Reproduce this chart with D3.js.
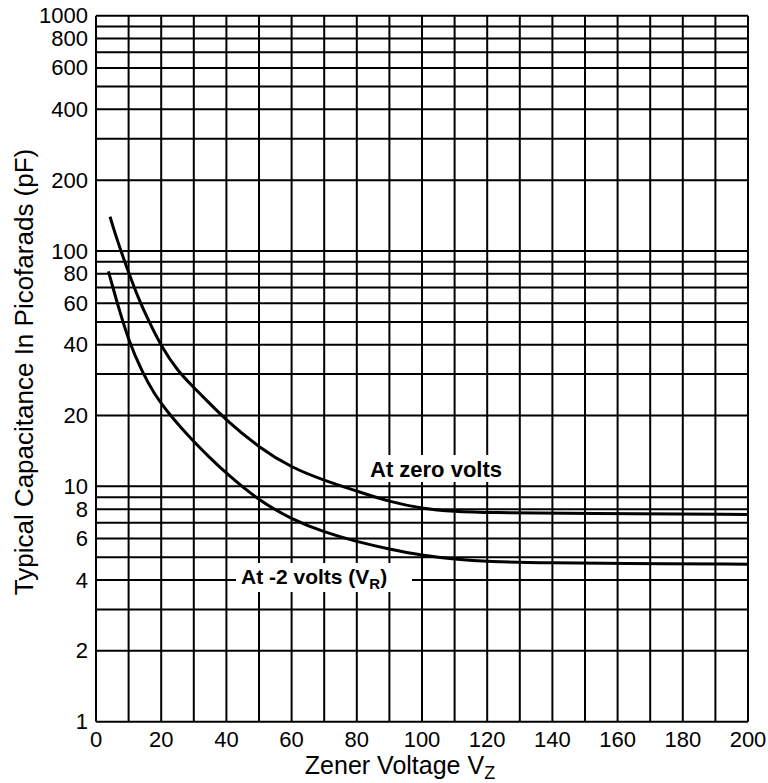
<!DOCTYPE html>
<html>
<head>
<meta charset="utf-8">
<script src="https://cdn.jsdelivr.net/npm/d3@7"></script>
<style>
  body { margin: 0; background: #fff; }
  text { font-family: "Liberation Sans", Arial, sans-serif; fill: #000; }
</style>
</head>
<body>
<div id="chart"></div>
<script>
// Zener voltage (x) and typical capacitance in pF (y)
const zeroVoltsVz = [4.3, 6, 8, 10, 13, 16, 20, 25, 30, 35, 40, 50, 60, 70, 80, 90, 100, 110, 120, 150, 200];
const zeroVoltsPf = [140, 117, 97, 81, 63, 51, 39.4, 31, 26.3, 22.4, 19.1, 14.6, 12, 10.6, 9.55, 8.6, 8.05, 7.82, 7.73, 7.67, 7.6];

const minus2Vz = [3.8, 5, 7, 10, 14, 18, 22, 26, 30, 35, 40, 50, 60, 70, 80, 90, 100, 110, 120, 140, 160, 200];
const minus2Pf = [82, 71.6, 57, 41.7, 30.9, 24.5, 20.7, 17.8, 15.5, 13.2, 11.35, 8.7, 7.25, 6.38, 5.82, 5.41, 5.09, 4.9, 4.79, 4.73, 4.7, 4.67];

// axis ticks and grid
const xTicks = [0, 20, 40, 60, 80, 100, 120, 140, 160, 180, 200];
const xGrid = [0, 10, 20, 30, 40, 50, 60, 70, 80, 90, 100, 110, 120, 130, 140, 150, 160, 170, 180, 190, 200];
const yTicks = [1, 2, 4, 6, 8, 10, 20, 40, 60, 80, 100, 200, 400, 600, 800, 1000];
const yGrid = [1, 2, 3, 4, 5, 6, 7, 8, 9, 10, 20, 30, 40, 50, 60, 70, 80, 90, 100,
               200, 300, 400, 500, 600, 700, 800, 900, 1000];

const margin = { top: 15.7, right: 20, bottom: 61.3, left: 96 };
const W = 768, H = 783;
const width = W - margin.left - margin.right;
const height = H - margin.top - margin.bottom;

const svg = d3.select("#chart")
    .append("svg")
    .attr("width", W)
    .attr("height", H);

const g = svg.append("g")
    .attr("transform", `translate(${margin.left},${margin.top})`);

const x = d3.scaleLinear().domain([0, 200]).range([0, width]);
const y = d3.scaleLog().domain([1, 1000]).range([height, 0]);

// grid
g.selectAll(".vgrid")
    .data(xGrid)
    .enter()
    .append("line")
    .attr("x1", d => x(d)).attr("x2", d => x(d))
    .attr("y1", 0).attr("y2", height)
    .attr("stroke", "#000")
    .attr("stroke-width", 2);

g.selectAll(".hgrid")
    .data(yGrid)
    .enter()
    .append("line")
    .attr("x1", 0).attr("x2", width)
    .attr("y1", d => y(d)).attr("y2", d => y(d))
    .attr("stroke", "#000")
    .attr("stroke-width", 2);

// tick labels
g.selectAll(".xlab")
    .data(xTicks)
    .enter()
    .append("text")
    .attr("x", d => x(d))
    .attr("y", height + 25.5)
    .attr("text-anchor", "middle")
    .style("font-size", "22px")
    .text(d => d);

g.selectAll(".ylab")
    .data(yTicks)
    .enter()
    .append("text")
    .attr("x", -8)
    .attr("y", d => y(d) + 7.5)
    .attr("text-anchor", "end")
    .style("font-size", "22px")
    .text(d => d);

// curves
const line = d3.line()
    .x(d => x(d[0]))
    .y(d => y(d[1]))
    .curve(d3.curveBasis);

g.append("path")
    .datum(zeroVoltsVz.map((v, i) => [v, zeroVoltsPf[i]]))
    .attr("d", line)
    .attr("fill", "none")
    .attr("stroke", "#000")
    .attr("stroke-width", 3);

g.append("path")
    .datum(minus2Vz.map((v, i) => [v, minus2Pf[i]]))
    .attr("d", line)
    .attr("fill", "none")
    .attr("stroke", "#000")
    .attr("stroke-width", 3);

// curve labels with white boxes
g.append("rect")
    .attr("x", 365 - margin.left).attr("y", 455 - margin.top)
    .attr("width", 148).attr("height", 27)
    .attr("fill", "#fff");
g.append("text")
    .attr("x", 370 - margin.left)
    .attr("y", 477 - margin.top)
    .style("font-size", "22px")
    .style("font-weight", "bold")
    .text("At zero volts");

g.append("rect")
    .attr("x", 236 - margin.left).attr("y", 563 - margin.top)
    .attr("width", 176).attr("height", 29)
    .attr("fill", "#fff");
const t2 = g.append("text")
    .attr("x", 241 - margin.left)
    .attr("y", 584 - margin.top)
    .style("font-size", "21px")
    .style("font-weight", "bold");
t2.append("tspan").text("At -2 volts (V");
t2.append("tspan").attr("dy", 5).style("font-size", "15px").text("R");
t2.append("tspan").attr("dy", -5).text(")");

// axis titles
const xt = svg.append("text")
    .attr("x", 400)
    .attr("y", 774)
    .attr("text-anchor", "middle")
    .style("font-size", "25px");
xt.append("tspan").text("Zener Voltage V");
xt.append("tspan").attr("dy", 5).style("font-size", "18px").text("Z");

svg.append("text")
    .attr("transform", "translate(33,372) rotate(-90)")
    .attr("text-anchor", "middle")
    .style("font-size", "26px")
    .text("Typical Capacitance In Picofarads (pF)");
</script>
</body>
</html>
